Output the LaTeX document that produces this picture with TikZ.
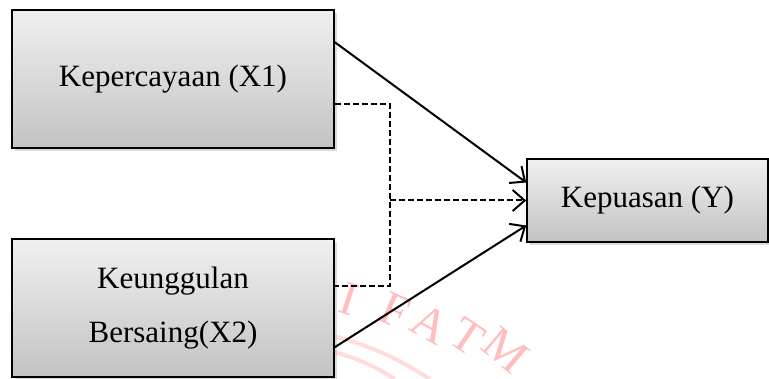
\documentclass[tikz,border=0pt]{standalone}
\usepackage{fontspec}
\setmainfont{Liberation Serif}
\usetikzlibrary{shadows,arrows.meta,calc}
\begin{document}
\begin{tikzpicture}[x=1pt,y=-1pt,
 varbox/.style={draw=black, line width=1.6pt, top color=gray!12, bottom color=gray!47,
   drop shadow={shadow xshift=2.5pt,shadow yshift=-3pt,opacity=0.35,fill=gray!80},
   inner sep=0pt, font=\fontsize{31}{55}\selectfont, align=center},
 tip/.style={-{Straight Barb[length=12pt,width=21pt,line width=2pt]}},
 link/.style={line width=2pt, tip},
 dlink/.style={line width=2pt, dash pattern=on 6pt off 3pt},
 wm/.style={text=red!26, inner sep=0pt, font=\fontsize{48}{48}\selectfont},
 wmarc/.style={draw=red!14, line width=4pt}]
\useasboundingbox (0,0) rectangle (769,379);
% watermark
\node[wm, rotate=-18] (w1) at (349,299) {I};
\node[wm, rotate=-24] (w2) at (395,311) {F};
\node[wm, rotate=-29] (w3) at (430,324) {A};
\node[wm, rotate=-34] (w4) at (467,337) {T};
\node[wm, rotate=-40] (w5) at (506,350) {M};
\draw[wmarc] (334,336) to[bend left=8] (430,379);
\draw[wmarc] (334,352) to[bend left=8] (395,379);
% boxes
\node[varbox, minimum width=322pt, minimum height=138pt] (b1) at (173,79) {Kepercayaan (X1)};
\node[varbox, minimum width=322pt, minimum height=138pt] (b2) at (173,308) {Keunggulan\\[-1pt]Bersaing(X2)};
\node[varbox, minimum width=241pt, minimum height=83pt] (y) at (647.5,200.5) {Kepuasan (Y)};
% connectors
\coordinate (s1) at ([yshift=-33pt]b1.north east);
\coordinate (t1) at ([yshift=18pt]y.west);
\coordinate (s2) at ([yshift=-109pt]b2.north east);
\coordinate (t2) at ([yshift=-25pt]y.west);
\draw[link] (s1) -- (t1);
\draw[link] (s2) -- (t2);
\coordinate (d1) at ([yshift=-25pt]b1.east);
\coordinate (d2) at ([yshift=22pt]b2.east);
\coordinate (j) at (390,0);
\draw[dlink] (d1) -- (d1 -| j) -- (d2 -| j) -- (d2);
\coordinate (m) at (y.west -| j);
\draw[dlink, tip] (m) -- (y.west);
\end{tikzpicture}
\end{document}
